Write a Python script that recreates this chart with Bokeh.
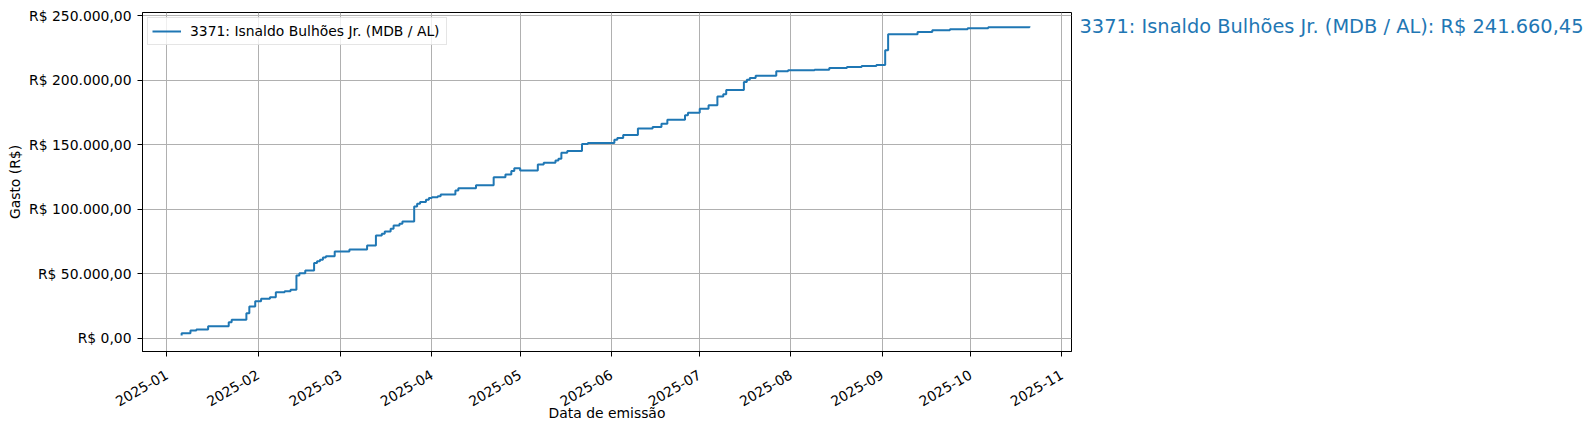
import math
from datetime import datetime
import pandas as pd
from bokeh.plotting import figure
from bokeh.layouts import row
from bokeh.models import (Range1d, FixedTicker, MonthsTicker, DatetimeTickFormatter,
                          Legend, LegendItem, ColumnDataSource)
from bokeh.core.properties import value
from bokeh.embed import file_html
from bokeh.resources import INLINE

# ---- data (cumulative spending, step "after") ----
dates = [
    "2025-01-06", "2025-01-06", "2025-01-09", "2025-01-11", "2025-01-15", "2025-01-22",
    "2025-01-23", "2025-01-28", "2025-01-29", "2025-01-31", "2025-02-02", "2025-02-05",
    "2025-02-07", "2025-02-10", "2025-02-12", "2025-02-14", "2025-02-15", "2025-02-17",
    "2025-02-20", "2025-02-21", "2025-02-22", "2025-02-23", "2025-02-24", "2025-02-27",
    "2025-03-04", "2025-03-10", "2025-03-13", "2025-03-15", "2025-03-16", "2025-03-18",
    "2025-03-19", "2025-03-21", "2025-03-22", "2025-03-26", "2025-03-26", "2025-03-27",
    "2025-03-28", "2025-03-30", "2025-03-31", "2025-04-01", "2025-04-03", "2025-04-04",
    "2025-04-09", "2025-04-10", "2025-04-16", "2025-04-22", "2025-04-26", "2025-04-28",
    "2025-04-29", "2025-05-01", "2025-05-07", "2025-05-09", "2025-05-13", "2025-05-14",
    "2025-05-15", "2025-05-17", "2025-05-22", "2025-05-24", "2025-06-02", "2025-06-03",
    "2025-06-05", "2025-06-10", "2025-06-15", "2025-06-18", "2025-06-20", "2025-06-26",
    "2025-06-27", "2025-07-01", "2025-07-04", "2025-07-07", "2025-07-09", "2025-07-10",
    "2025-07-16", "2025-07-17", "2025-07-18", "2025-07-20", "2025-07-27", "2025-07-31",
    "2025-08-09", "2025-08-14", "2025-08-20", "2025-08-25", "2025-08-30", "2025-09-02",
    "2025-09-03", "2025-09-13", "2025-09-18", "2025-09-24", "2025-09-30", "2025-10-07",
    "2025-10-21",
]
values = [
    2100, 3900, 6000, 6700, 9300, 12400,
    14300, 19400, 24600, 28700, 30500, 31800,
    35700, 36400, 37500, 48600, 50300, 52500,
    58200, 59700, 60800, 62500, 63500, 67200,
    68800, 71900, 79600, 81000, 82700, 84800,
    87400, 88700, 90500, 95100, 102100, 104200,
    105500, 107300, 108600, 109300, 110100, 111400,
    114500, 116200, 118500, 124800, 126900, 129500,
    131800, 130000, 134700, 136000, 137800, 139100,
    143800, 145000, 150500, 151300, 153800, 155100,
    157400, 162600, 163600, 166200, 169300, 172700,
    174800, 177900, 180500, 187400, 189000, 192300,
    198500, 200200, 201600, 203300, 206800, 207600,
    208100, 209400, 210100, 211000, 211800, 223100,
    235500, 237300, 238600, 239400, 240100, 240900,
    241660.45,
]
y_ticks = [0, 50000, 100000, 150000, 200000, 250000]
y_tick_labels = ["R$ 0,00", "R$ 50.000,00", "R$ 100.000,00", "R$ 150.000,00",
                 "R$ 200.000,00", "R$ 250.000,00"]
series_name = "3371: Isnaldo Bulhões Jr. (MDB / AL)"
x_label = "Data de emissão"
y_label = "Gasto (R$)"


def brl(v):
    s = f"{v:,.2f}"
    return "R$ " + s.replace(",", "X").replace(".", ",").replace("X", ".")


FONT = "DejaVu Sans"
BLUE = "#1f77b4"
TOP, BOTTOM, FH = 12, 72, 339

src = ColumnDataSource(dict(x=pd.to_datetime(dates), y=values))
y_range = Range1d(-10300, 252400)

p = figure(
    x_axis_type="datetime",
    output_backend="svg", toolbar_location=None,
    frame_width=929, frame_height=FH,
    min_border_left=142, min_border_right=8, min_border_top=TOP, min_border_bottom=BOTTOM,
    x_range=Range1d(datetime(2024, 12, 23, 17), datetime(2025, 11, 4, 7)),
    y_range=y_range,
)
p.background_fill_color = "white"
p.border_fill_color = "white"
p.outline_line_color = "black"
p.outline_line_width = 1
p.outline_line_alpha = 1

r = p.step("x", "y", source=src, mode="after", line_color=BLUE, line_width=2)

for g in (p.xgrid, p.ygrid):
    g.grid_line_color = "#b0b0b0"
    g.grid_line_width = 1

p.xaxis.ticker = MonthsTicker(months=list(range(12)))
p.xaxis.formatter = DatetimeTickFormatter(
    months="%Y-%m", days="%Y-%m", years="%Y-%m", hours="%Y-%m",
)
p.xaxis.major_label_orientation = math.pi / 6
p.yaxis.ticker = FixedTicker(ticks=y_ticks)
p.yaxis.major_label_overrides = {t: l for t, l in zip(y_ticks, y_tick_labels)}
p.xaxis.axis_label = x_label
p.yaxis.axis_label = y_label

for ax in (p.xaxis[0], p.yaxis[0]):
    ax.axis_line_color = "black"
    ax.axis_line_width = 1
    ax.major_tick_line_color = "black"
    ax.major_tick_out = 5
    ax.major_tick_in = 0
    ax.minor_tick_line_color = None
    ax.major_label_text_font = FONT
    ax.major_label_text_font_size = "13.9px"
    ax.major_label_text_color = "black"
    ax.axis_label_text_font = FONT
    ax.axis_label_text_font_size = "13.9px"
    ax.axis_label_text_font_style = "normal"
    ax.axis_label_text_color = "black"

p.yaxis.major_label_standoff = 6
p.yaxis.axis_label_standoff = 3
p.xaxis.major_label_standoff = 17
p.xaxis.axis_label_standoff = -9

legend = Legend(items=[LegendItem(label=series_name, renderers=[r])],
                location="top_left")
legend.margin = 5
legend.padding = 4
legend.spacing = 0
legend.glyph_width = 29
legend.glyph_height = 18
legend.label_height = 18
legend.label_width = 252
legend.label_standoff = 9
legend.label_text_font = FONT
legend.label_text_font_size = "13.9px"
legend.label_text_color = "black"
legend.border_line_color = "#cccccc"
legend.border_line_width = 1
legend.background_fill_color = "white"
legend.background_fill_alpha = 0.8
p.add_layout(legend)

# right-hand annotation panel sharing the y range
final_text = f"{series_name}: {brl(values[-1])}"
p2 = figure(
    output_backend="svg", toolbar_location=None,
    frame_width=508, frame_height=FH,
    min_border_left=0, min_border_right=0, min_border_top=TOP, min_border_bottom=BOTTOM,
    x_range=Range1d(0, 1), y_range=y_range,
    x_axis_location=None, y_axis_location=None,
)
p2.outline_line_color = None
p2.xgrid.visible = False
p2.ygrid.visible = False
p2.background_fill_color = "white"
p2.border_fill_color = "white"
lab_src = ColumnDataSource(dict(x=[0], y=[values[-1]], t=[final_text]))
p2.text("x", "y", text="t", source=lab_src, text_font=value(FONT),
        text_font_size="19.4px", text_color=BLUE,
        text_baseline="middle", text_align="left")

layout = row(p, p2)
open("out.html", "w").write(file_html(layout, INLINE))
